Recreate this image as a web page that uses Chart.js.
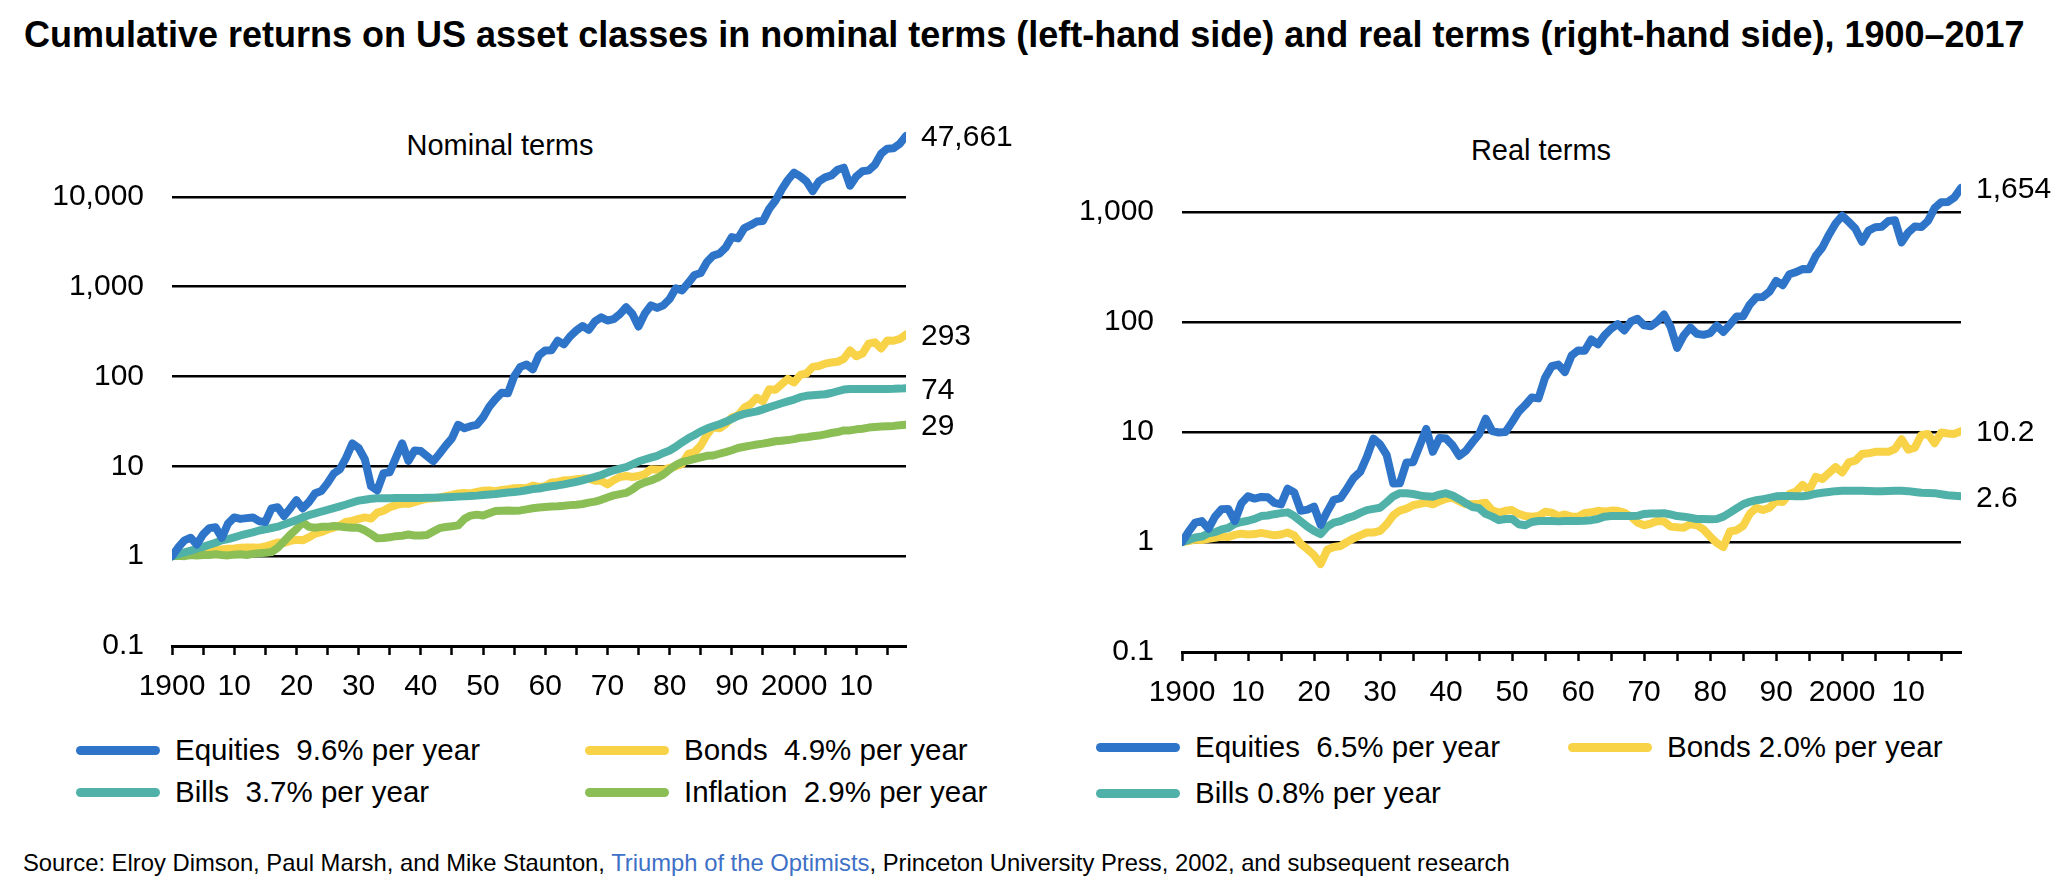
<!DOCTYPE html>
<html>
<head>
<meta charset="utf-8">
<script src="https://cdn.jsdelivr.net/npm/chart.js@4.4.1/dist/chart.umd.min.js"></script>
<style>
  body { margin: 0; width: 2060px; height: 890px; background: #fff; position: relative; overflow: hidden;
         font-family: "Liberation Sans", Arial, Helvetica, sans-serif; color: #000; }
  .abs { position: absolute; white-space: pre; }
  #title { left: 24px; top: 35px; transform: translateY(-50%); font-weight: bold; font-size: 36px; }
  .panel-title { font-size: 29px; transform: translate(-50%, -50%); }
  canvas { position: absolute; top: 0; }
  .legend { position: absolute; display: grid; }
  .legend .item { display: flex; align-items: center; font-size: 29.5px; white-space: pre; }
  .legend .swatch { width: 84px; height: 9px; border-radius: 5px; flex: none; margin-right: 15px; }
  #source { left: 23px; top: 863px; transform: translateY(-50%); font-size: 23.8px; }
  #source span { color: #3d70c6; }
</style>
</head>
<body>
<div id="title" class="abs">Cumulative returns on US asset classes in nominal terms (left-hand side) and real terms (right-hand side), 1900–2017</div>
<div class="abs panel-title" style="left:500px; top:145px;">Nominal terms</div>
<div class="abs panel-title" style="left:1541px; top:150px;">Real terms</div>

<canvas id="nominal" width="1040" height="720" style="left:0; width:1040px; height:720px;"></canvas>
<canvas id="real" width="1020" height="720" style="left:1040px; width:1020px; height:720px;"></canvas>

<div id="legendNominal" class="legend" style="left:76px; top:729px; grid-template-columns:509px 420px; grid-auto-rows:42px;"></div>
<div id="legendReal" class="legend" style="left:1096px; top:724px; grid-template-columns:472px 420px; grid-auto-rows:46px;"></div>

<div id="source" class="abs">Source: Elroy Dimson, Paul Marsh, and Mike Staunton, <span>Triumph of the Optimists</span>, Princeton University Press, 2002, and subsequent research</div>

<script>
const FONT = '"Liberation Sans", Arial, Helvetica, sans-serif';

// years 1900..2018 (value at start of 1900, then each year-end)
const years = Array.from({ length: 119 }, (_, i) => 1900 + i);

const tickYears = [1900, 1905, 1910, 1915, 1920, 1925, 1930, 1935, 1940, 1945, 1950, 1955,
                   1960, 1965, 1970, 1975, 1980, 1985, 1990, 1995, 2000, 2005, 2010, 2015];
const labelYears = [1900, 1910, 1920, 1930, 1940, 1950, 1960, 1970, 1980, 1990, 2000, 2010];
const yearLabels = ['1900', '10', '20', '30', '40', '50', '60', '70', '80', '90', '2000', '10'];

const nominalTicks = [0.1, 1, 10, 100, 1000, 10000];
const nominalTickLabels = ['0.1', '1', '10', '100', '1,000', '10,000'];
const realTicks = [0.1, 1, 10, 100, 1000];
const realTickLabels = ['0.1', '1', '10', '100', '1,000'];

// nominal terms
const equitiesNominal = [
  1.0, 1.25, 1.5, 1.6, 1.35, 1.75, 2.05, 2.1, 1.6, 2.3,
  2.7, 2.6, 2.65, 2.7, 2.45, 2.4, 3.4, 3.5, 2.8, 3.4,
  4.2, 3.4, 4.0, 5.0, 5.3, 6.5, 8.3, 9.3, 12.5, 18,
  16, 12, 6.0, 5.4, 8.4, 8.6, 12.5, 18, 11.5, 15,
  14.8, 13, 11.4, 13.8, 17, 20.5, 29, 26.5, 28, 29,
  35, 46, 56, 66, 65, 100, 128, 136, 120, 172,
  195, 196, 250, 228, 280, 325, 365, 330, 410, 455,
  420, 435, 495, 590, 500, 360, 500, 620, 580, 620,
  730, 960, 910, 1100, 1350, 1420, 1880, 2220, 2330, 2720,
  3560, 3450, 4480, 4830, 5300, 5380, 7350, 9050, 12000, 15400,
  18600, 16900, 14900, 11600, 14900, 16500, 17300, 20000, 21100, 13300,
  16800, 19300, 19700, 22800, 30200, 34300, 34800, 39000, 47661
];
const bondsNominal = [
  1.0, 1.03, 1.05, 1.07, 1.09, 1.12, 1.15, 1.17, 1.19, 1.21,
  1.22, 1.24, 1.25, 1.25, 1.24, 1.28, 1.35, 1.42, 1.40, 1.48,
  1.52, 1.50, 1.62, 1.78, 1.85, 1.98, 2.08, 2.2, 2.42, 2.47,
  2.6, 2.7, 2.62, 3.05, 3.2, 3.5, 3.7, 3.85, 3.82, 4.0,
  4.2, 4.35, 4.4, 4.5, 4.65, 4.8, 5.0, 5.05, 5.0, 5.2,
  5.35, 5.4, 5.3, 5.45, 5.55, 5.7, 5.75, 5.7, 6.1, 5.9,
  6.0, 6.6, 6.7, 7.0, 7.0, 7.2, 7.3, 7.3, 6.9, 6.9,
  6.3, 7.0, 7.6, 7.8, 7.6, 7.8, 8.2, 9.3, 9.2, 9.2,
  9.6, 10.0, 10.6, 13.8, 14.4, 17.0, 22.5, 27.5, 26.5, 29.5,
  35, 37, 45, 49, 58, 53, 72, 71, 82, 94,
  86, 104, 108, 128, 131, 139, 143, 146, 157, 195,
  168, 180, 232, 240, 205, 252, 250, 262, 293
];
const billsNominal = [
  1.0, 1.05, 1.10, 1.15, 1.22, 1.27, 1.34, 1.41, 1.50, 1.55,
  1.62, 1.70, 1.77, 1.84, 1.93, 1.99, 2.06, 2.13, 2.25, 2.39,
  2.52, 2.71, 2.86, 2.99, 3.14, 3.27, 3.42, 3.59, 3.76, 3.96,
  4.15, 4.25, 4.35, 4.40, 4.41, 4.42, 4.43, 4.44, 4.45, 4.45,
  4.45, 4.46, 4.47, 4.49, 4.52, 4.56, 4.60, 4.63, 4.67, 4.72,
  4.79, 4.85, 4.92, 5.02, 5.12, 5.17, 5.26, 5.41, 5.58, 5.67,
  5.85, 6.00, 6.13, 6.30, 6.50, 6.73, 6.98, 7.32, 7.62, 8.00,
  8.52, 9.04, 9.44, 9.80, 10.5, 11.3, 11.9, 12.5, 13.1, 14.1,
  15.0, 16.5, 18.5, 20.5, 22.3, 24.5, 26.3, 27.9, 29.4, 31.3,
  33.8, 36.4, 38.4, 39.7, 40.9, 43.1, 45.5, 47.9, 50.4, 52.9,
  55.4, 58.8, 61.0, 62.0, 62.7, 63.5, 65.5, 68.5, 71.5, 72.6,
  72.7, 72.8, 72.8, 72.8, 72.8, 72.8, 72.9, 73.3, 74
];
const inflation = [
  1.00, 1.01, 1.00, 1.03, 1.02, 1.03, 1.03, 1.05, 1.03, 1.02,
  1.04, 1.05, 1.03, 1.06, 1.08, 1.09, 1.11, 1.24, 1.46, 1.73,
  2.00, 2.38, 2.12, 2.07, 2.12, 2.12, 2.17, 2.14, 2.10, 2.07,
  2.07, 1.94, 1.76, 1.58, 1.59, 1.62, 1.67, 1.69, 1.74, 1.70,
  1.70, 1.72, 1.88, 2.05, 2.11, 2.15, 2.20, 2.60, 2.83, 2.90,
  2.84, 3.01, 3.18, 3.20, 3.22, 3.21, 3.23, 3.32, 3.42, 3.48,
  3.53, 3.58, 3.60, 3.64, 3.70, 3.74, 3.81, 3.94, 4.05, 4.24,
  4.50, 4.75, 4.90, 5.06, 5.51, 6.19, 6.63, 6.96, 7.43, 8.11,
  9.22, 10.35, 11.2, 11.6, 12.1, 12.6, 13.1, 13.2, 13.8, 14.4,
  15.1, 16.0, 16.5, 17.0, 17.5, 17.9, 18.4, 19.0, 19.3, 19.6,
  20.1, 20.8, 21.1, 21.6, 22.0, 22.7, 23.5, 24.1, 25.1, 25.1,
  25.8, 26.2, 27.0, 27.4, 27.8, 28.0, 28.2, 28.7, 29
];

// real terms
const equitiesReal = [
  1.00, 1.24, 1.50, 1.55, 1.32, 1.70, 1.99, 2.00, 1.55, 2.25,
  2.60, 2.48, 2.57, 2.55, 2.27, 2.20, 3.06, 2.82, 1.92, 1.97,
  2.10, 1.43, 1.89, 2.42, 2.50, 3.07, 3.82, 4.35, 5.95, 8.70,
  7.73, 6.19, 3.41, 3.42, 5.28, 5.31, 7.49, 10.65, 6.61, 8.82,
  8.71, 7.56, 6.06, 6.73, 8.06, 9.53, 13.2, 10.2, 9.89, 10.0,
  12.3, 15.3, 17.6, 20.6, 20.2, 31.2, 39.6, 41.0, 35.1, 49.4,
  55.2, 54.7, 69.4, 62.6, 75.7, 86.9, 95.8, 83.8, 101, 107,
  93.3, 91.6, 101, 117, 90.7, 58.2, 75.4, 89.1, 78.1, 76.4,
  79.2, 92.8, 81.3, 94.8, 112, 113, 144, 168, 169, 189,
  236, 216, 272, 284, 303, 301, 399, 476, 622, 786,
  925, 813, 706, 537, 677, 727, 736, 830, 841, 530,
  651, 737, 730, 832, 1086, 1225, 1234, 1359, 1654
];
const bondsReal = [
  1.00, 1.02, 1.05, 1.04, 1.07, 1.09, 1.12, 1.11, 1.16, 1.19,
  1.17, 1.18, 1.21, 1.18, 1.15, 1.17, 1.22, 1.15, 0.96, 0.86,
  0.76, 0.63, 0.85, 0.90, 0.92, 1.00, 1.08, 1.15, 1.22, 1.22,
  1.26, 1.45, 1.75, 1.93, 2.01, 2.16, 2.22, 2.28, 2.20, 2.35,
  2.47, 2.53, 2.34, 2.20, 2.20, 2.23, 2.27, 1.94, 1.85, 1.92,
  1.95, 1.80, 1.72, 1.70, 1.72, 1.88, 1.85, 1.72, 1.78, 1.70,
  1.70, 1.84, 1.86, 1.92, 1.89, 1.93, 1.92, 1.85, 1.70, 1.50,
  1.42, 1.47, 1.55, 1.54, 1.38, 1.36, 1.35, 1.45, 1.42, 1.30,
  1.12, 0.98, 0.90, 1.25, 1.28, 1.40, 1.80, 2.05, 1.95, 2.05,
  2.35, 2.31, 2.73, 2.88, 3.31, 2.96, 3.91, 3.74, 4.25, 4.80,
  4.28, 5.3, 5.5, 6.3, 6.4, 6.6, 6.6, 6.6, 7.0, 8.6,
  6.9, 7.2, 9.4, 9.6, 7.9, 9.9, 9.7, 9.6, 10.2
];
const billsReal = [
  1.00, 1.04, 1.10, 1.12, 1.20, 1.23, 1.30, 1.34, 1.46, 1.52,
  1.56, 1.62, 1.72, 1.74, 1.79, 1.83, 1.86, 1.72, 1.54, 1.38,
  1.26, 1.18, 1.38, 1.50, 1.55, 1.65, 1.72, 1.84, 1.95, 2.00,
  2.05, 2.30, 2.60, 2.78, 2.77, 2.73, 2.65, 2.60, 2.58, 2.70,
  2.78, 2.65, 2.45, 2.25, 2.08, 2.03, 1.80, 1.70, 1.58, 1.62,
  1.62, 1.45, 1.42, 1.52, 1.55, 1.55, 1.55, 1.54, 1.55, 1.55,
  1.55, 1.56, 1.58, 1.62, 1.70, 1.72, 1.72, 1.72, 1.72, 1.73,
  1.80, 1.82, 1.82, 1.83, 1.78, 1.72, 1.70, 1.66, 1.62, 1.62,
  1.61, 1.62, 1.70, 1.85, 2.02, 2.20, 2.32, 2.40, 2.45, 2.52,
  2.60, 2.62, 2.62, 2.60, 2.61, 2.65, 2.75, 2.80, 2.85, 2.90,
  2.92, 2.93, 2.93, 2.92, 2.91, 2.90, 2.90, 2.91, 2.92, 2.92,
  2.90, 2.85, 2.80, 2.79, 2.78, 2.72, 2.66, 2.63, 2.6
];

const COLORS = { equities: '#2e74c8', bonds: '#f8d247', bills: '#50b1a8', inflation: '#8bbe55' };

// first entry is drawn on top
const nominalSeries = [
  { values: equitiesNominal, color: COLORS.equities, endLabel: '47,661' },
  { values: billsNominal, color: COLORS.bills, endLabel: '74' },
  { values: inflation, color: COLORS.inflation, endLabel: '29' },
  { values: bondsNominal, color: COLORS.bonds, endLabel: '293' }
];
const realSeries = [
  { values: equitiesReal, color: COLORS.equities, endLabel: '1,654' },
  { values: billsReal, color: COLORS.bills, endLabel: '2.6' },
  { values: bondsReal, color: COLORS.bonds, endLabel: '10.2' }
];

const nominalLegend = [
  ['Equities  9.6% per year', COLORS.equities], ['Bonds  4.9% per year', COLORS.bonds],
  ['Bills  3.7% per year', COLORS.bills], ['Inflation  2.9% per year', COLORS.inflation]
];
const realLegend = [
  ['Equities  6.5% per year', COLORS.equities], ['Bonds 2.0% per year', COLORS.bonds],
  ['Bills 0.8% per year', COLORS.bills]
];

// value printed just right of each line's last point
const endLabels = {
  id: 'endLabels',
  afterDatasetsDraw(chart) {
    const ctx = chart.ctx;
    ctx.save();
    ctx.font = '30px ' + FONT;
    ctx.fillStyle = '#000';
    ctx.textBaseline = 'middle';
    chart.data.datasets.forEach((ds, i) => {
      const pts = chart.getDatasetMeta(i).data;
      const last = pts[pts.length - 1];
      ctx.fillText(ds.endLabel, last.x + 15, last.y + 2);
    });
    ctx.restore();
  }
};

function makeChart(id, series, yMax, yTicks, yTickLabels, box) {
  return new Chart(document.getElementById(id), {
    type: 'line',
    data: {
      datasets: series.map(s => ({
        endLabel: s.endLabel,
        data: years.map((yr, i) => ({ x: yr, y: s.values[i] })),
        borderColor: s.color,
        borderWidth: 8,
        borderJoinStyle: 'round',
        borderCapStyle: 'round',
        pointRadius: 0,
        tension: 0,
        fill: false
      }))
    },
    options: {
      responsive: false,
      animation: false,
      devicePixelRatio: 1,
      layout: { padding: { top: box.top, right: box.right, left: 0, bottom: 0 } },
      plugins: { legend: { display: false }, tooltip: { enabled: false } },
      scales: {
        x: {
          type: 'linear',
          min: 1900,
          max: 2018,
          afterBuildTicks: s => { s.ticks = tickYears.map(v => ({ value: v })); },
          afterFit: s => { s.height = box.xAxisHeight; },
          ticks: {
            autoSkip: false, maxRotation: 0, padding: 14, color: '#000',
            font: { size: 30, family: FONT },
            callback: v => { const k = labelYears.indexOf(v); return k < 0 ? '' : yearLabels[k]; }
          },
          grid: { drawOnChartArea: false, drawTicks: true, tickLength: 9, tickWidth: 2.5, tickColor: '#000' },
          border: { display: true, color: '#000', width: 3 }
        },
        y: {
          type: 'logarithmic',
          min: 0.1,
          max: yMax,
          afterBuildTicks: s => { s.ticks = yTicks.map(v => ({ value: v })); },
          afterFit: s => { s.width = box.left; },
          ticks: {
            padding: 28, color: '#000', font: { size: 30, family: FONT },
            callback: (v, i) => yTickLabels[i]
          },
          grid: { color: '#000', lineWidth: 2.5, drawTicks: false },
          border: { display: false }
        }
      }
    },
    plugins: [endLabels]
  });
}

function makeLegend(id, items) {
  const el = document.getElementById(id);
  items.forEach(([text, color]) => {
    const item = document.createElement('div');
    item.className = 'item';
    const sw = document.createElement('div');
    sw.className = 'swatch';
    sw.style.background = color;
    item.appendChild(sw);
    item.appendChild(document.createTextNode(text));
    el.appendChild(item);
  });
}

makeChart('nominal', nominalSeries, 100000, nominalTicks, nominalTickLabels,
  { left: 172, right: 134, top: 107, xAxisHeight: 74 });
makeChart('real', realSeries, 10000, realTicks, realTickLabels,
  { left: 142, right: 99, top: 102, xAxisHeight: 68 });

makeLegend('legendNominal', nominalLegend);
makeLegend('legendReal', realLegend);
</script>
</body>
</html>
